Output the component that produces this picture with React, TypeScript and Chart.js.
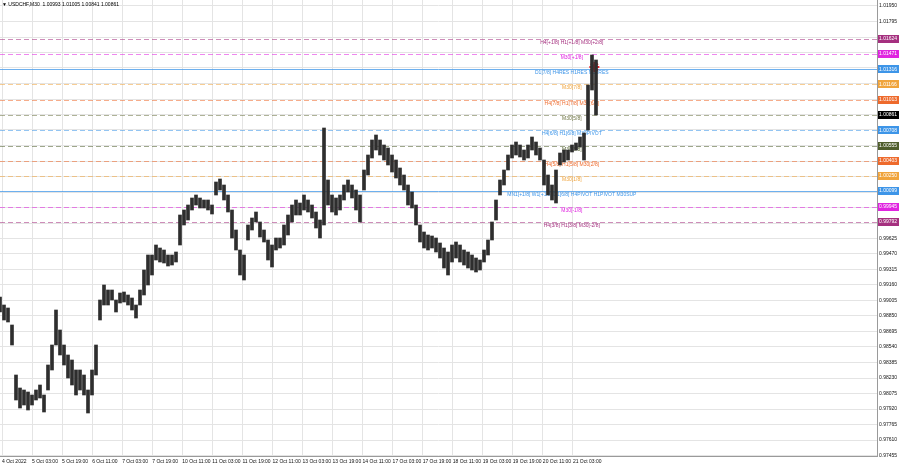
import React, { useEffect, useRef } from 'react';
import { Chart, registerables } from 'chart.js';

Chart.register(...registerables);

const SYMBOL = 'USDCHF,M30';
const TITLE_OHLC = ['1.00993', '1.01005', '1.00841', '1.00861'];

// each sample groups ~4 M30 bars (about 2.13 trading hours)
const SAMPLE_HOURS = 2.13;

const HIGHS = [
  0.9904, 0.9896, 0.9893, 0.9876, 0.9826, 0.9813, 0.9811, 0.9809, 0.9806, 0.9811,
  0.9816, 0.9806, 0.9836, 0.9856, 0.9891, 0.9871, 0.9856, 0.9846, 0.9841, 0.9831,
  0.9831, 0.9826, 0.9811, 0.9831, 0.9856, 0.9901, 0.9916, 0.9911, 0.9911, 0.9901,
  0.9908, 0.9909, 0.9906, 0.9903, 0.9896, 0.9911, 0.9931, 0.9946, 0.9946, 0.9956,
  0.9953, 0.9951, 0.9946, 0.9946, 0.9949, 0.9986, 0.9991, 0.9996, 1.0003, 1.0006,
  1.0003, 1.0001, 1.0001, 0.9996, 1.0019, 1.0022, 1.0016, 1.0006, 0.9991, 0.9971,
  0.9951, 0.9946, 0.9976, 0.9983, 0.9989, 0.9979, 0.9971, 0.9961, 0.9956, 0.9963,
  0.9963, 0.9976, 0.9986, 0.9996, 1.0001, 0.9998, 1.0006, 1.0001, 0.9996, 0.9989,
  0.9981, 1.0073, 1.0021, 1.0006, 1.0003, 1.0006, 1.0016, 1.0021, 1.0016, 1.0011,
  1.0006, 1.0031, 1.0046, 1.0061, 1.0066, 1.0061, 1.0056, 1.0053, 1.0046, 1.0041,
  1.0033, 1.0026, 1.0016, 1.0009, 0.9996, 0.9976, 0.9969, 0.9966, 0.9965, 0.9963,
  0.9958, 0.9953, 0.9949, 0.9956, 0.9959, 0.9956, 0.9951, 0.9949, 0.9946, 0.9943,
  0.9941, 0.9951, 0.9961, 0.9979, 1.0001, 1.0021, 1.0031, 1.0046, 1.0056, 1.0059,
  1.0056, 1.0051, 1.0056, 1.0064, 1.0059, 1.0053, 1.0041, 1.0026, 1.0016, 1.0031,
  1.0048, 1.0051, 1.0051, 1.0056, 1.0058, 1.0064, 1.0068, 1.0116, 1.0146, 1.0141,
];

const LOWS = [
  0.9889, 0.9881, 0.9879, 0.9856, 0.9801, 0.9793, 0.9796, 0.9791, 0.9796, 0.9801,
  0.9803, 0.9789, 0.9811, 0.9831, 0.9856, 0.9846, 0.9836, 0.9823, 0.9816, 0.9806,
  0.9811, 0.9806, 0.9788, 0.9806, 0.9826, 0.9881, 0.9896, 0.9896, 0.9901, 0.9889,
  0.9898, 0.9899, 0.9896, 0.9891, 0.9883, 0.9896, 0.9906, 0.9916, 0.9926, 0.9941,
  0.9939, 0.9938, 0.9935, 0.9936, 0.9939, 0.9956, 0.9976, 0.9981, 0.9991, 0.9996,
  0.9993, 0.9993, 0.9991, 0.9987, 1.0006, 1.0011, 1.0001, 0.9989, 0.9963, 0.9951,
  0.9926, 0.9921, 0.9961, 0.9971, 0.9979, 0.9964, 0.9959, 0.9941, 0.9934, 0.9951,
  0.9953, 0.9956, 0.9966, 0.9979, 0.9986, 0.9986, 0.9991, 0.9989, 0.9983, 0.9973,
  0.9963, 0.9976, 0.9996, 0.9989, 0.9986, 0.9991, 1.0001, 1.0009, 1.0003, 0.9991,
  0.9979, 1.0011, 1.0026, 1.0043, 1.0051, 1.0046, 1.0041, 1.0036, 1.0029, 1.0023,
  1.0016, 1.0011, 0.9996, 0.9993, 0.9976, 0.9959, 0.9953, 0.9951, 0.9953, 0.9949,
  0.9943, 0.9933, 0.9926, 0.9939, 0.9943, 0.9939, 0.9936, 0.9933, 0.9931, 0.9929,
  0.9931, 0.9939, 0.9946, 0.9961, 0.9981, 1.0006, 1.0016, 1.0031, 1.0043, 1.0046,
  1.0044, 1.0041, 1.0043, 1.0051, 1.0046, 1.0041, 1.0016, 1.0006, 1.0001, 0.9998,
  1.0036, 1.0039, 1.0041, 1.0049, 1.0051, 1.0054, 1.0041, 1.0071, 1.0111, 1.0086,
];

const TIME_LABELS = [
  '4 Oct 2022', '5 Oct 03:00', '5 Oct 19:00', '6 Oct 11:00', '7 Oct 03:00',
  '7 Oct 19:00', '10 Oct 11:00', '11 Oct 03:00', '11 Oct 19:00', '12 Oct 11:00',
  '13 Oct 03:00', '13 Oct 19:00', '14 Oct 11:00', '17 Oct 03:00', '17 Oct 19:00',
  '18 Oct 11:00', '19 Oct 03:00', '19 Oct 19:00', '20 Oct 11:00', '21 Oct 03:00',
];
const LABEL_STEP_HOURS = 16;
const FIRST_LABEL_HOURS = 1.07;

const PRICE_TICKS = [
  1.0195, 1.01795, 1.0164, 1.01485, 1.0133, 1.01175, 1.0102, 1.00865, 1.0071, 1.00555,
  1.004, 1.00245, 1.0009, 0.99935, 0.9978, 0.99625, 0.9947, 0.99315, 0.9916, 0.99005,
  0.9885, 0.98695, 0.9854, 0.98385, 0.9823, 0.98075, 0.9792, 0.97765, 0.9761, 0.97455,
];

const LEVEL_PRICES = [
  1.01624, 1.01471, 1.01316, 1.01166, 1.01013, 1.00861, 1.00708,
  1.00555, 1.00403, 1.0025, 1.00099, 0.99945, 0.99792,
];
const LEVEL_LABELS = [
  'H4[+1/8] H1[+1/8] M30[+2/8]',
  'M30[+1/8]',
  'D1[7/8] H4RES H1RES M30RES',
  'M30[7/8]',
  'H4[7/8] H1[7/8] M30[6/8]',
  'M30[5/8]',
  'H4[6/8] H1[6/8] M30PIVOT',
  'M30[3/8]',
  'H4[5/8] H1[5/8] M30[2/8]',
  'M30[1/8]',
  'MN1[+1/8] W1[+1/8] D1[6/8] H4PIVOT H1PIVOT M30SUP',
  'M30[-1/8]',
  'H4[3/8] H1[3/8] M30[-2/8]',
];
const LEVEL_COLORS = [
  '#a5307f', '#e024e0', '#3d95e8', '#f0a43c', '#ee6a2c', '#6e7444', '#3d95e8',
  '#4f5e2c', '#ee6a2c', '#f0a43c', '#3d95e8', '#e024e0', '#a5307f',
];
const LEVEL_SOLID = [false, false, true, false, false, false, false, false, false, false, true, false, false];

const CURRENT_PRICE = 1.00861;
const MARKER_HOURS = [316.5];
const MARKER_PRICES = [1.0134];

const LEVEL_LABEL_HOURS = 304.5;
const FONT = '"Liberation Sans", "DejaVu Sans", sans-serif';

const zeroPad = (s: any) => {
  s.paddingLeft = 0;
  s.paddingRight = 0;
  s.paddingTop = 0;
  s.paddingBottom = 0;
};

const overlayPlugin = {
  id: 'mtOverlay',
  beforeDatasetsDraw(chart: any) {
    const { ctx, chartArea, scales } = chart;
    const xs = scales.x;
    const ys = scales.y;
    ctx.save();
    ctx.font = `5px ${FONT}`;
    LEVEL_PRICES.forEach((p, i) => {
      const y = Math.round(ys.getPixelForValue(p)) + 0.5;
      ctx.beginPath();
      ctx.strokeStyle = LEVEL_COLORS[i];
      ctx.globalAlpha = LEVEL_SOLID[i] ? 0.75 : 0.55;
      ctx.lineWidth = 1;
      ctx.setLineDash(LEVEL_SOLID[i] ? [] : [5, 3]);
      ctx.moveTo(chartArea.left, y);
      ctx.lineTo(chartArea.right, y);
      ctx.stroke();
      ctx.globalAlpha = 1;
      ctx.setLineDash([]);
      ctx.fillStyle = LEVEL_COLORS[i];
      ctx.textAlign = 'center';
      ctx.textBaseline = 'top';
      ctx.fillText(LEVEL_LABELS[i], xs.getPixelForValue(LEVEL_LABEL_HOURS), y + 0.5);
    });
    ctx.restore();
  },
  afterDraw(chart: any) {
    const { ctx, chartArea, scales } = chart;
    const ys = scales.y;
    ctx.save();
    ctx.font = `5px ${FONT}`;
    ctx.textBaseline = 'middle';
    ctx.textAlign = 'left';
    const drawBox = (p: number, color: string) => {
      const y = ys.getPixelForValue(p);
      ctx.fillStyle = color;
      ctx.fillRect(chartArea.right + 1, Math.round(y) - 4, 21, 8);
      ctx.fillStyle = '#ffffff';
      ctx.fillText(p.toFixed(5), chartArea.right + 2, y);
    };
    LEVEL_PRICES.forEach((p, i) => {
      if (p !== CURRENT_PRICE) drawBox(p, LEVEL_COLORS[i]);
    });
    drawBox(CURRENT_PRICE, '#000000');
    ctx.fillStyle = '#000000';
    ctx.fillText('\u25BC ' + SYMBOL + '  ' + TITLE_OHLC.join(' '), chartArea.left + 2, chartArea.top + 5);
    ctx.restore();
  },
};

export default function App() {
  const ref = useRef<HTMLCanvasElement | null>(null);

  useEffect(() => {
    if (!ref.current) return;
    const bars = HIGHS.map((h, i) => ({ x: i * SAMPLE_HOURS, y: [LOWS[i], h] }));
    const markers = MARKER_HOURS.map((h, i) => ({ x: h, y: MARKER_PRICES[i] }));
    const chart = new Chart(ref.current, {
      type: 'bar',
      data: {
        datasets: [
          {
            type: 'bar',
            data: bars as any,
            backgroundColor: '#2e2e2e',
            borderWidth: 0,
            barThickness: 3,
            grouped: false,
          } as any,
          {
            type: 'scatter',
            data: markers as any,
            pointStyle: 'star',
            radius: 5,
            borderColor: '#e8202a',
            borderWidth: 2,
            backgroundColor: '#e8202a',
            clip: false,
          } as any,
        ],
      },
      options: {
        responsive: false,
        maintainAspectRatio: false,
        animation: false,
        devicePixelRatio: 1,
        layout: { padding: 0, autoPadding: false },
        plugins: { legend: { display: false }, tooltip: { enabled: false }, title: { display: false } },
        scales: {
          x: {
            type: 'linear',
            min: 0,
            max: 467,
            offset: false,
            grid: { color: '#e4e4e4', drawTicks: false, offset: false },
            border: { display: true, color: '#9a9a9a' },
            ticks: {
              autoSkip: false,
              maxRotation: 0,
              minRotation: 0,
              align: 'start',
              padding: 3,
              color: '#111',
              font: { size: 5, family: FONT },
              callback: (_v: any, i: number) => TIME_LABELS[i],
            },
            afterBuildTicks: (s: any) => {
              s.ticks = TIME_LABELS.map((_, k) => ({ value: FIRST_LABEL_HOURS + LABEL_STEP_HOURS * k }));
            },
            afterFit: (s: any) => {
              s.height = 12;
              zeroPad(s);
            },
          } as any,
          y: {
            type: 'linear',
            position: 'right',
            min: 0.9745,
            max: 1.0201,
            grid: { color: '#e4e4e4', drawTicks: false },
            border: { display: true, color: '#9a9a9a' },
            ticks: {
              padding: 2,
              color: '#111',
              font: { size: 5, family: FONT },
              callback: (v: any) => (v > 0.997 && v < 1.017 ? '' : Number(v).toFixed(5)),
            },
            afterBuildTicks: (s: any) => {
              s.ticks = PRICE_TICKS.map((v) => ({ value: v }));
            },
            afterFit: (s: any) => {
              s.width = 23;
              zeroPad(s);
            },
          } as any,
        },
      },
      plugins: [overlayPlugin],
    });
    return () => chart.destroy();
  }, []);

  return (
    <div style={{ position: 'absolute', left: 0, top: 0, width: 900, height: 468, background: '#fff' }}>
      <canvas ref={ref} width={900} height={468} style={{ width: 900, height: 468, display: 'block' }} />
    </div>
  );
}
